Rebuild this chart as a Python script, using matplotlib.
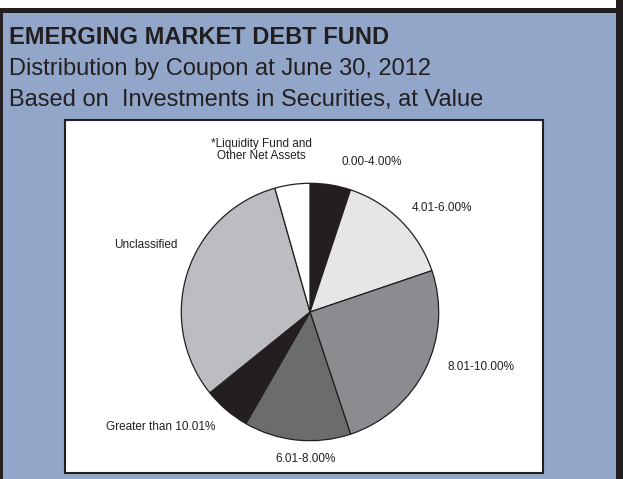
import matplotlib.pyplot as plt
from matplotlib.patches import Rectangle

plt.rcParams['font.family'] = ['Liberation Sans', 'DejaVu Sans']

# Chart data (clockwise from 12 o'clock), percent of investments
categories = ['0.00-4.00%', '4.01-6.00%', '8.01-10.00%', '6.01-8.00%',
              'Greater than 10.01%', 'Unclassified',
              '*Liquidity Fund and\nOther Net Assets']
shares = [5.1, 14.7, 25.1, 13.4, 5.9, 31.4, 4.4]

title_lines = ['EMERGING MARKET DEBT FUND',
               'Distribution by Coupon at June 30, 2012',
               'Based on  Investments in Securities, at Value']

# Styling
ink = '#231f20'
blue = '#91a6c9'
slice_colors = [ink, '#e6e6e7', '#8b8c8f', '#6b6c6e', ink, '#bcbdc0', '#ffffff']
# label anchor points (pixels) for each slice label
label_pos = [(372, 162), (442, 208), (481, 367), (306, 459),
             (161, 427), (146, 245), (261, 150)]

W, H = 623, 479
fig = plt.figure(figsize=(W / 100, H / 100), dpi=100)
fig.patch.set_facecolor('white')

bg = fig.add_axes([0, 0, 1, 1])
bg.set_xlim(0, W)
bg.set_ylim(H, 0)
bg.axis('off')

# blue panel with dark frame
bg.add_patch(Rectangle((0, 8), W, H, facecolor=blue, edgecolor='none', zorder=0))
bg.add_patch(Rectangle((0, 8), W, 5, facecolor=ink, edgecolor='none', zorder=1))
bg.add_patch(Rectangle((0, 8), 3, H, facecolor=ink, edgecolor='none', zorder=1))
bg.add_patch(Rectangle((616, 0), 7, H, facecolor=ink, edgecolor='none', zorder=1))

# white chart box
bg.add_patch(Rectangle((65, 120), 478, 353, facecolor='white',
                       edgecolor=ink, linewidth=1.5, zorder=2))

# titles
baselines = [44, 75, 106]
for i, (txt, yb) in enumerate(zip(title_lines, baselines)):
    bg.text(9, yb, txt, fontsize=17, color=ink, va='baseline', ha='left',
            fontweight='bold' if i == 0 else 'normal', zorder=3)

# pie
cx, cy, r = 310, 312, 130
ax = fig.add_axes([(cx - r) / W, (H - cy - r) / H, 2 * r / W, 2 * r / H])
ax.pie(shares, colors=slice_colors, startangle=90, counterclock=False,
       wedgeprops=dict(edgecolor=ink, linewidth=0.9))
ax.set_xlim(-1.01, 1.01)
ax.set_ylim(-1.01, 1.01)

for lab, (x, y) in zip(categories, label_pos):
    bg.text(x, y, lab, fontsize=8.5, color=ink, ha='center', va='center',
            linespacing=1.1, zorder=3)

fig.savefig('out.png', dpi=100)
